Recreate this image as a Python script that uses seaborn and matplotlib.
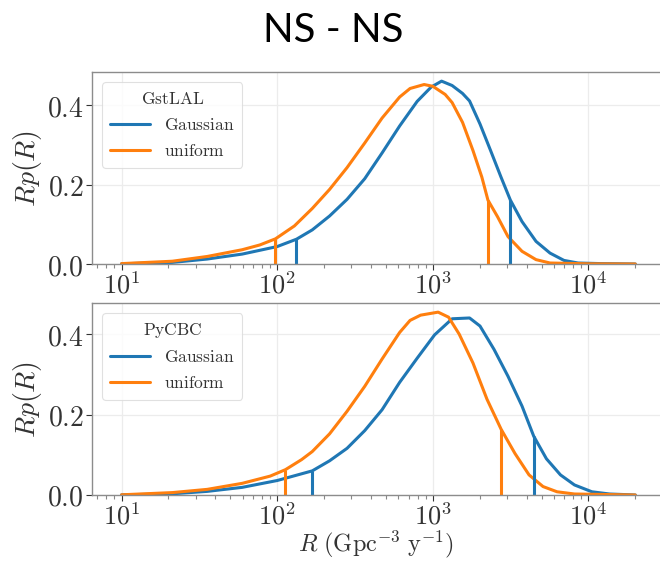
import numpy as np
import pandas as pd
import matplotlib
matplotlib.use("Agg")
import matplotlib.pyplot as plt
import seaborn as sns
from matplotlib.lines import Line2D

# ---------------- data ----------------
# top panel: GstLAL
gst_gauss_R = [10, 21.2, 35.5, 59.6, 100, 133, 168, 217, 281, 365, 472, 612, 793, 975, 1138,
               1330, 1552, 1722, 2009, 2350, 2742, 3150, 3741, 4603, 5662, 6966, 8570, 12000, 20000]
gst_gauss_y = [0.0005, 0.004, 0.0125, 0.025, 0.044, 0.0625, 0.086, 0.121, 0.163, 0.215, 0.280,
               0.348, 0.410, 0.446, 0.461, 0.450, 0.430, 0.411, 0.353, 0.286, 0.219, 0.161,
               0.107, 0.057, 0.0275, 0.009, 0.0025, 0.001, 0.0]
gst_unif_R = [10, 21.2, 35.5, 59.6, 77.3, 97.5, 129, 168, 217, 281, 365, 472, 612, 714, 879,
              1000, 1200, 1330, 1552, 1811, 2065, 2260, 2606, 3041, 3741, 4603, 5662, 10000, 20000]
gst_unif_y = [0.001, 0.007, 0.019, 0.036, 0.048, 0.0635, 0.096, 0.140, 0.188, 0.243, 0.305,
              0.368, 0.421, 0.4425, 0.4525, 0.448, 0.4275, 0.407, 0.357, 0.286, 0.219, 0.161,
              0.119, 0.069, 0.032, 0.011, 0.0025, 0.0005, 0.0]
gst_vl_R = [97.5, 2260, 133, 3150]
gst_vl_h = [0.0635, 0.161, 0.0625, 0.161]

# bottom panel: PyCBC
pyc_gauss_R = [10, 21.2, 35.5, 59.6, 100, 168, 217, 281, 365, 472, 612, 793, 1026, 1330, 1722,
               2009, 2472, 3041, 3741, 4450, 5370, 6607, 8128, 10520, 13650, 20000]
pyc_gauss_y = [0.0003, 0.003, 0.009, 0.019, 0.036, 0.060, 0.085, 0.116, 0.160, 0.212, 0.280,
               0.340, 0.398, 0.438, 0.440, 0.420, 0.362, 0.295, 0.221, 0.146, 0.090, 0.050,
               0.025, 0.008, 0.0025, 0.0]
pyc_unif_R = [10, 21.2, 35.5, 59.6, 90.2, 113, 143.5, 168, 217, 281, 365, 472, 612, 714, 834,
              1081, 1262, 1476, 1811, 2228, 2750, 3373, 4150, 5105, 6281, 8128, 20000]
pyc_unif_y = [0.0005, 0.006, 0.014, 0.029, 0.047, 0.063, 0.088, 0.108, 0.152, 0.208, 0.270,
              0.338, 0.404, 0.434, 0.447, 0.4545, 0.442, 0.400, 0.328, 0.238, 0.163, 0.103,
              0.050, 0.021, 0.008, 0.0025, 0.0]
pyc_vl_R = [113, 2750, 168, 4450]
pyc_vl_h = [0.063, 0.163, 0.060, 0.146]

priors = ["Gaussian", "uniform"]
pipelines = ["GstLAL", "PyCBC"]
xtick_vals = [10, 100, 1000, 10000]
xtick_labels = [r"$10^{1}$", r"$10^{2}$", r"$10^{3}$", r"$10^{4}$"]
ytick_vals = [0.0, 0.2, 0.4]
ytick_labels = [r"$0.0$", r"$0.2$", r"$0.4$"]
title = "NS - NS"

# ---------------- styling ----------------
sns.set_theme(style="whitegrid")
plt.rcParams["mathtext.fontset"] = "cm"
plt.rcParams["font.family"] = ["DejaVu Sans"]
BLUE, ORANGE = "#1f77b4", "#ff7f0e"
palette = {"Gaussian": BLUE, "uniform": ORANGE}

fig = plt.figure(figsize=(6.6, 5.61), dpi=100)
ax_top = fig.add_axes([92 / 660, 1 - 264 / 561, 569 / 660, 192 / 561])
ax_bot = fig.add_axes([92 / 660, 1 - 495 / 561, 569 / 660, 192 / 561])

panels = [
    (ax_top, pipelines[0], gst_gauss_R, gst_gauss_y, gst_unif_R, gst_unif_y, gst_vl_R, gst_vl_h),
    (ax_bot, pipelines[1], pyc_gauss_R, pyc_gauss_y, pyc_unif_R, pyc_unif_y, pyc_vl_R, pyc_vl_h),
]

for ax, name, gR, gy, uR, uy, vR, vh in panels:
    df = pd.concat([
        pd.DataFrame({"R": gR, "val": gy, "prior": priors[0]}),
        pd.DataFrame({"R": uR, "val": uy, "prior": priors[1]}),
    ])
    sns.lineplot(data=df, x="R", y="val", hue="prior", palette=palette, ax=ax,
                 linewidth=2.2, legend=False, estimator=None, sort=True)
    for ln in ax.get_lines():
        ln.set_solid_joinstyle("round")
    vcols = [ORANGE, ORANGE, BLUE, BLUE]
    ax.vlines(vR, 0, vh, colors=vcols, linewidth=2.2)
    ax.set_xscale("log")
    ax.set_xlim(10 ** 0.81, 10 ** 4.466)
    top = max(max(gy), max(uy)) * 1.05
    ax.set_ylim(0, top)
    ax.set_xticks(xtick_vals)
    ax.set_xticklabels(xtick_labels, fontsize=19)
    ax.set_yticks(ytick_vals)
    ax.set_yticklabels(ytick_labels, fontsize=20)
    ax.xaxis.set_minor_locator(matplotlib.ticker.LogLocator(base=10, subs=np.arange(2, 10)))
    ax.xaxis.set_minor_formatter(matplotlib.ticker.NullFormatter())
    ax.tick_params(axis="x", which="minor", bottom=True, length=3, width=0.8, color="#888888")
    ax.tick_params(axis="x", which="major", bottom=True, length=4, width=0.8, color="#888888", pad=2)
    ax.tick_params(axis="y", which="major", left=True, length=4, width=0.8, color="#888888", pad=2)
    ax.tick_params(colors="#333333", which="major", labelcolor="#333333")
    ax.grid(True, which="major", color="#ececec", linewidth=0.9)
    ax.grid(False, which="minor")
    for s in ax.spines.values():
        s.set_color("#8c8c8c")
        s.set_linewidth(1.0)
    ax.set_ylabel(r"$Rp(R)$", fontsize=20, labelpad=2, color="#333333")
    ax.set_xlabel("")
    handles = [Line2D([], [], color=BLUE, linewidth=2.2),
               Line2D([], [], color=ORANGE, linewidth=2.2)]
    leg = ax.legend(handles, [r"$\mathrm{%s}$" % p for p in priors],
                    title=r"$\mathrm{%s}$" % name, loc="upper left", fontsize=12.5,
                    title_fontsize=12.5, handlelength=2.3, frameon=True, borderaxespad=0.6,
                    labelspacing=0.45, borderpad=0.45)
    leg.get_frame().set_edgecolor("#d9d9d9")
    leg.get_frame().set_linewidth(0.8)
    for t in leg.get_texts():
        t.set_color("#333333")
    leg.get_title().set_color("#333333")

ax_bot.set_xlabel(r"$R\ (\mathrm{Gpc}^{-3}\ \mathrm{y}^{-1})$", fontsize=17.5, labelpad=-1,
                  color="#333333")

fig.text(333 / 660, 1 - 42 / 561, title, fontsize=29, family=["Lato", "DejaVu Sans"],
         ha="center", va="baseline", color="black")

fig.savefig("out.png", dpi=100)
